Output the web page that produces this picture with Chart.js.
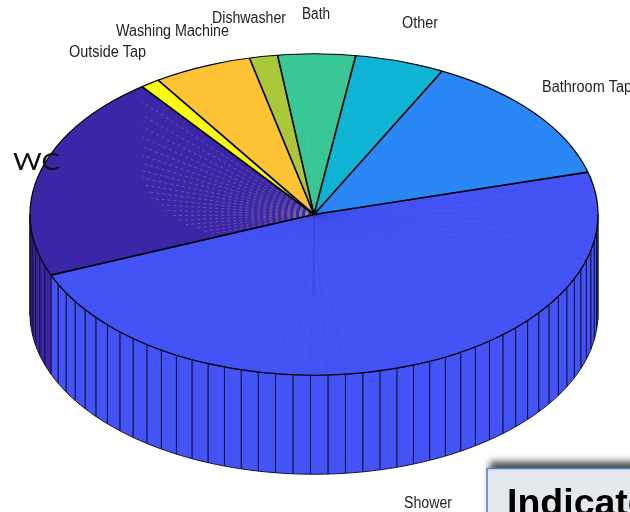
<!DOCTYPE html>
<html>
<head>
<meta charset="utf-8">
<title>Water use</title>
<script src="https://cdn.jsdelivr.net/npm/chart.js@4/dist/chart.umd.min.js"></script>
<style>
  html, body { margin: 0; padding: 0; background: #fff; }
  canvas { display: block; }
</style>
</head>
<body>
<canvas id="pie" width="630" height="512"></canvas>
<script>
// clockwise from the Shower / Bathroom Tap edge
const categories = ['Shower', 'WC', 'Outside Tap', 'Washing Machine', 'Dishwasher', 'Bath', 'Other', 'Bathroom Tap'];
const shares = [48.1, 20.8, 1.1, 5.6, 1.6, 4.4, 5.1, 13.3];
const colors = ['#4353f5', '#3c26a8', '#f9fb15', '#fec335', '#abc73a', '#38c795', '#10b4d4', '#2b87f5'];

const SQUASH = 0.566;
const DEPTH = 99;

// left edge, baseline, drawn width
const labelSpots = {
  'Shower': [404, 508, 48],
  'WC': [13, 170, 47],
  'Outside Tap': [69, 57, 77],
  'Washing Machine': [116, 36, 113],
  'Dishwasher': [212, 23, 74],
  'Bath': [302, 18.5, 28],
  'Other': [402, 28, 36],
  'Bathroom Tap': [542, 92, 90]
};

function fitText(ctx, text, x, y, width) {
  const scale = width / ctx.measureText(text).width;
  ctx.save();
  ctx.translate(x, y);
  ctx.scale(scale, 1);
  ctx.fillText(text, 0, 0);
  ctx.restore();
}

function arcsOf(chart) {
  return chart.getDatasetMeta(0).data.map(a => a.getProps(['x', 'y', 'startAngle', 'endAngle', 'outerRadius'], true));
}

const pie3d = {
  id: 'pie3d',
  beforeDatasetsDraw(chart) {
    const ctx = chart.ctx;
    const arcs = arcsOf(chart);
    // side wall: one facet per started percent, like pie3
    ctx.lineWidth = 1;
    ctx.strokeStyle = '#14143a';
    arcs.forEach((arc, i) => {
      const n = Math.ceil(shares[i]);
      const step = (arc.endAngle - arc.startAngle) / n;
      for (let f = 0; f < n; f++) {
        const lo = Math.max(arc.startAngle + f * step, 0);
        const hi = Math.min(arc.startAngle + (f + 1) * step, Math.PI);
        if (hi <= lo) continue;
        ctx.beginPath();
        ctx.ellipse(arc.x, arc.y, arc.outerRadius, arc.outerRadius * SQUASH, 0, lo, hi);
        ctx.ellipse(arc.x, arc.y + DEPTH, arc.outerRadius, arc.outerRadius * SQUASH, 0, hi, lo, true);
        ctx.closePath();
        ctx.fillStyle = colors[i];
        ctx.fill();
        ctx.stroke();
      }
    });
    // top face is the real pie, flattened
    const c = arcs[0];
    ctx.save();
    ctx.translate(c.x, c.y);
    ctx.scale(1, SQUASH);
    ctx.translate(-c.x, -c.y);
  },
  afterDatasetsDraw(chart) {
    const ctx = chart.ctx;
    ctx.restore();
    const arcs = arcsOf(chart);
    const spoke = (arc, a, r) => {
      ctx.beginPath();
      ctx.moveTo(arc.x, arc.y);
      ctx.lineTo(arc.x + r * Math.cos(a), arc.y + r * SQUASH * Math.sin(a));
      ctx.stroke();
    };

    // faint facet lines on the top face
    arcs.forEach((arc, i) => {
      const n = Math.ceil(shares[i]);
      const step = (arc.endAngle - arc.startAngle) / n;
      const isWC = categories[i] === 'WC';
      ctx.lineWidth = isWC ? 0.8 : 0.6;
      ctx.strokeStyle = isWC ? 'rgba(170,160,130,0.5)' : (i === 0 ? 'rgba(0,0,40,0.07)' : 'rgba(0,0,40,0.035)');
      ctx.setLineDash(isWC ? [3, 3] : []);
      for (let f = 1; f < n; f++) {
        const a = arc.startAngle + f * step;
        let r = arc.outerRadius;
        if (isWC) {
          const deg = a * 180 / Math.PI;
          r = arc.outerRadius * 0.605 / Math.abs(Math.cos(a));
          if (deg < 200) r = Math.min(r, arc.outerRadius * (0.37 + 0.28 * Math.max(deg - 160, 0) / 40));
        }
        spoke(arc, a, r);
      }
    });
    ctx.setLineDash([]);

    // darker seam straight down from the centre
    ctx.strokeStyle = 'rgba(20,20,70,0.22)';
    ctx.lineWidth = 1;
    spoke(arcs[0], Math.PI / 2, arcs[0].outerRadius * 0.5);

    // slice edges and rim
    ctx.strokeStyle = '#000';
    ctx.lineWidth = 1.7;
    arcs.forEach(arc => spoke(arc, arc.startAngle, arc.outerRadius));
    const c = arcs[0];
    ctx.lineWidth = 1.2;
    ctx.beginPath();
    ctx.ellipse(c.x, c.y, c.outerRadius, c.outerRadius * SQUASH, 0, 0, Math.PI * 2);
    ctx.stroke();
  },
  afterDraw(chart) {
    const ctx = chart.ctx;
    ctx.textBaseline = 'alphabetic';
    ctx.textAlign = 'left';
    categories.forEach(name => {
      const [x, y, w] = labelSpots[name];
      ctx.font = name === 'WC' ? '400 24px Lato' : '16px "Liberation Sans"';
      ctx.fillStyle = name === 'WC' ? '#111' : '#222';
      fitText(ctx, name, x, y, w);
    });

    // the slide box that cuts into the corner
    ctx.save();
    ctx.shadowColor = 'rgba(0,0,0,0.7)';
    ctx.shadowBlur = 7;
    ctx.shadowOffsetX = 3;
    ctx.shadowOffsetY = -8;
    ctx.fillStyle = '#e4e7ec';
    ctx.fillRect(487, 468.5, 160, 60);
    ctx.restore();
    ctx.strokeStyle = '#4486c4';
    ctx.lineWidth = 1.5;
    ctx.strokeRect(487, 468.5, 160, 60);
    ctx.fillStyle = '#000';
    ctx.font = 'bold 37.5px "Liberation Sans"';
    ctx.fillText('Indicate', 507, 515);
  }
};

new Chart(document.getElementById('pie'), {
  type: 'pie',
  data: {
    labels: categories,
    datasets: [{
      data: shares,
      backgroundColor: colors,
      borderWidth: 0,
      clip: false
    }]
  },
  options: {
    responsive: false,
    animation: false,
    rotation: 74.7,
    radius: 284,
    layout: { padding: { left: 0, right: 2, top: 0, bottom: 83 } },
    plugins: { legend: { display: false }, tooltip: { enabled: false } }
  },
  plugins: [pie3d]
});
</script>
</body>
</html>
